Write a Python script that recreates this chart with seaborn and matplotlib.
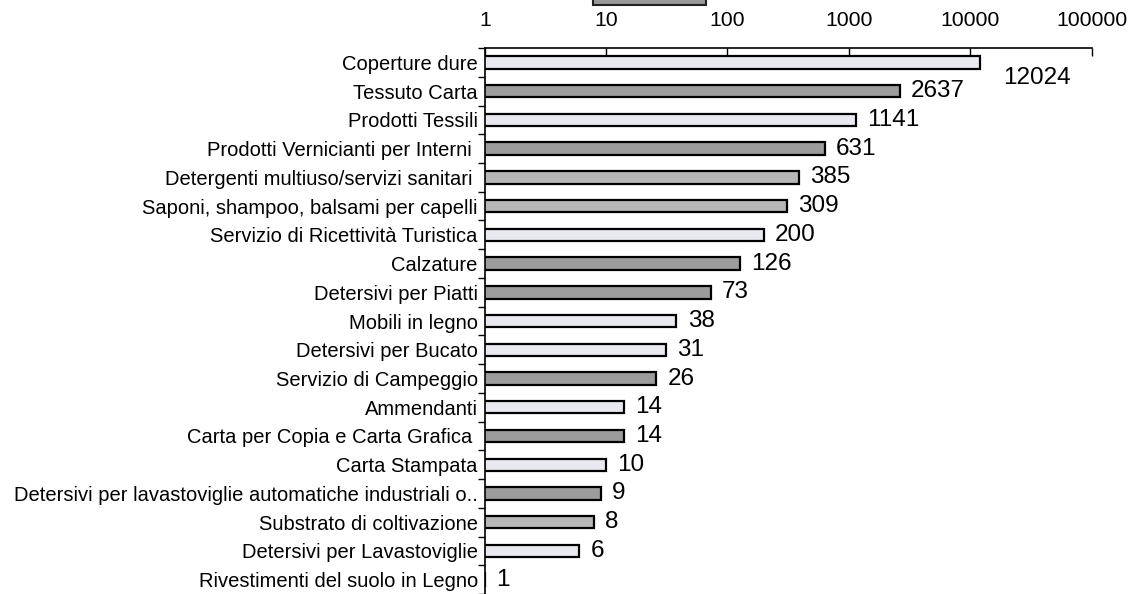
import matplotlib
matplotlib.use("Agg")
import matplotlib.pyplot as plt
import matplotlib.patches as patches
import matplotlib.ticker as ticker
import seaborn as sns
import pandas as pd
import numpy as np

categories = ['Coperture dure', 'Tessuto Carta', 'Prodotti Tessili',
              'Prodotti Vernicianti per Interni ',
              'Detergenti multiuso/servizi sanitari ',
              'Saponi, shampoo, balsami per capelli',
              'Servizio di Ricettività Turistica', 'Calzature',
              'Detersivi per Piatti', 'Mobili in legno',
              'Detersivi per Bucato', 'Servizio di Campeggio',
              'Ammendanti', 'Carta per Copia e Carta Grafica ',
              'Carta Stampata',
              'Detersivi per lavastoviglie automatiche industriali o..',
              'Substrato di coltivazione', 'Detersivi per Lavastoviglie',
              'Rivestimenti del suolo in Legno']
licenze = [12024, 2637, 1141, 631, 385, 309, 200, 126, 73, 38, 31, 26,
           14, 14, 10, 9, 8, 6, 1]
tick_vals = [1, 10, 100, 1000, 10000, 100000]
tick_labels = ['1', '10', '100', '1000', '10000', '100000']

# light / dark fill, like the scanned original
light = '#e9e9f0'
mid = '#b7b7b7'
dark = '#9c9c9c'
bar_colors = [light, dark, light, dark, mid, mid, light, dark, dark, light,
              light, dark, light, dark, light, dark, mid, light, light]

df = pd.DataFrame({'cat': categories, 'n': licenze})

sns.set_theme(style='white', rc={'text.color': 'black',
                                 'xtick.color': 'black',
                                 'ytick.color': 'black'})
plt.rcParams['font.family'] = ['Liberation Sans', 'DejaVu Sans']

fig = plt.figure(figsize=(11.3, 5.94), dpi=100)
ax = fig.add_axes([0.429, 0.0, 0.537, 0.919])

sns.barplot(data=df, x='n', y='cat', hue='cat', palette=bar_colors,
            legend=False, width=0.43, edgecolor='black', linewidth=1.6,
            saturation=1, ax=ax)
ax.set_xscale('log')

ax.set_xlim(1, 100000)
ax.set_ylim(18.5, -0.5)
ax.xaxis.tick_top()
ax.set_xticks(tick_vals)
ax.set_xticklabels(tick_labels, fontsize=15.3, color='black')
ax.xaxis.set_minor_locator(ticker.NullLocator())
ax.tick_params(axis='x', which='major', direction='in', length=6, width=1,
               color='black', pad=13, top=True, bottom=False)

# category labels, ticks between rows
ax.set_yticks(range(len(categories)))
ax.set_yticklabels(categories, fontsize=14.5, color='black')
ax.tick_params(axis='y', which='major', length=0, pad=5)
ax.yaxis.set_minor_locator(ticker.FixedLocator(np.arange(-0.5, 19, 1)))
ax.tick_params(axis='y', which='minor', direction='out', length=5,
               width=1, color='black', left=True)

ax.set_xlabel('')
ax.set_ylabel('')
for side in ['right', 'bottom']:
    ax.spines[side].set_visible(False)
for side in ['left', 'top']:
    ax.spines[side].set_color('black')
    ax.spines[side].set_linewidth(1.2)

# value labels
for i, v in enumerate(licenze):
    dx, dy = 8, 0
    if i == 0:
        dx, dy = 17, -11
    ax.annotate(str(v), xy=(v, i), xytext=(dx, dy),
                textcoords='offset points', va='center', ha='left',
                fontsize=17.5, color='black')

# legend box cut off at the top edge
fig.patches.append(patches.Rectangle((0.525, 0.992), 0.1, 0.03,
                                     transform=fig.transFigure,
                                     facecolor='#999999', edgecolor='#222222',
                                     linewidth=1.5))

fig.savefig('out.png', dpi=100)
